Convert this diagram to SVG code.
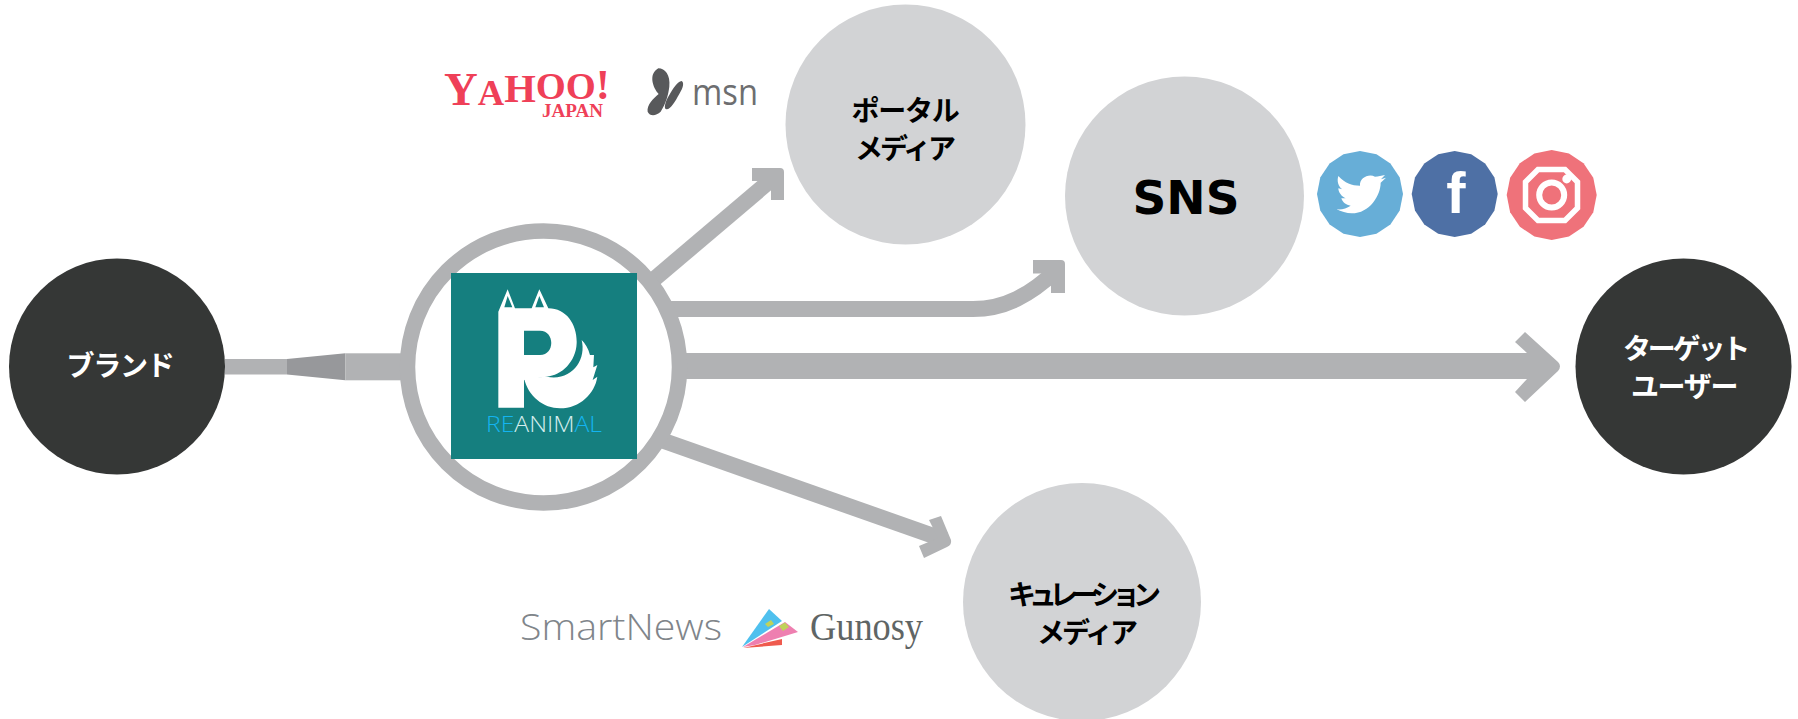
<svg xmlns="http://www.w3.org/2000/svg" xmlns:xlink="http://www.w3.org/1999/xlink" width="1798" height="719" viewBox="0 0 1798 719">
<style>
.dark{fill:#353736}.light{fill:#d2d3d5}.g{fill:#b1b2b4}
text{font-family:"Noto Sans CJK JP","Noto Sans",sans-serif;font-weight:700;text-anchor:middle}
.w{fill:#fff;font-size:28px;letter-spacing:-1.300px}.k{fill:#000;font-size:28px;letter-spacing:-1.300px}
.shaft{fill:none;stroke:#b1b2b4;stroke-width:16}
.logo{text-anchor:start}
.serif{font-family:"Liberation Serif",serif}
.sans{font-family:"Open Sans",sans-serif}
</style>
<defs>
<polygon id="facet" points="0,-1 .383,-.924 .707,-.707 .924,-.383 1,0 .924,.383 .707,.707 .383,.924 0,1 -.383,.924 -.707,.707 -.924,.383 -1,0 -.924,-.383 -.707,-.707 -.383,-.924"/>
</defs>
<rect width="1798" height="719" fill="#fff"/>
<g id="connectors">
<rect class="g" x="225" y="359" width="62" height="15.500"/>
<path d="M287 359L345.300 353.300V380.300L287 374.500Z" fill="#97989b"/>
<rect class="g" x="345.300" y="353.300" width="60" height="27"/>
<path class="shaft" d="M652 281L778 174"/>
<path class="g" d="M752 168H780Q784 168 784 172V200H771V181H752Z"/>
<path class="shaft" d="M668 309H973C1005 309 1030 295 1057 270"/>
<path class="g" d="M1033 260H1061Q1065 260 1065 264V293H1051V273.500H1033Z"/>
<path class="g" d="M680 353H1527L1515 342L1525 332L1558 362Q1562 366 1558 371L1525 402L1515 392L1527 379H680Z"/>
<path class="shaft" d="M664 441L945 540"/>
<path class="g" d="M941 516L951 540Q952 545 947 547L924 558L919 546L938 538L929 520Z"/>
</g>
<g id="brand"><circle class="dark" cx="117" cy="366.500" r="108"/><text class="w" x="120" y="376">ブランド</text></g>
<g id="target"><circle class="dark" cx="1683.500" cy="366.500" r="108"/><text class="w"><tspan x="1685" y="359" letter-spacing="-3.200">ターゲット</tspan><tspan x="1684" y="397">ユーザー</tspan></text></g>
<g id="portal"><circle class="light" cx="905.500" cy="124.500" r="120"/><text class="k"><tspan x="905" y="120.500">ポータル</tspan><tspan x="904" y="158.500" letter-spacing="-3">メディア</tspan></text></g>
<g id="sns"><circle class="light" cx="1184.500" cy="196" r="119.500"/><text class="k" x="1186" y="214" style="font-size:47px;letter-spacing:0;font-family:'DejaVu Sans',sans-serif">SNS</text></g>
<g id="curation"><circle class="light" cx="1082" cy="602" r="119"/><text class="k"><tspan x="1081" y="605" letter-spacing="-7">キュレーション</tspan><tspan x="1086" y="643" letter-spacing="-3">メディア</tspan></text></g>
<g id="reanimal">
<circle cx="543.500" cy="367" r="136" fill="#fff" stroke="#b1b2b4" stroke-width="15.500"/>
<rect x="451" y="273" width="186" height="186" fill="#157f7f"/>
<g transform="translate(480 280) scale(.3333)">
<path fill="#fff" d="M55 383V95L83 28L105 85H155L178 28L205 85C260 85 292 135 290 190C288 245 245 287 200 290L132 300V383Z"/>
<path fill="#fff" d="M132 295C145 350 190 385 240 385C300 385 345 340 352 290L338 300L352 255L340 262L342 225L330 225C325 205 315 190 305 180C320 240 275 305 200 290Z"/>
<path fill="#157f7f" d="M132 152H180C225 152 225 225 180 225H132Z"/>
<path fill="#157f7f" d="M83 48L73 82H97ZM178 48L166 82H192Z"/>
</g>
<text class="logo sans" x="486" y="431.500" textLength="116" lengthAdjust="spacingAndGlyphs" style="font-weight:300;font-size:22px" fill="#d5eeee"><tspan fill="#14b4f0">RE</tspan>ANIM<tspan fill="#14b4f0">AL</tspan></text>
</g>
<g id="logos">
<text class="logo serif" x="444" y="105" textLength="166" lengthAdjust="spacingAndGlyphs" style="font-size:38px" fill="#ef4058"><tspan style="font-size:46px">Y</tspan><tspan style="font-size:36px">A</tspan><tspan dy="-3" style="font-size:40px">H</tspan><tspan dy="-3">OO</tspan><tspan style="font-size:42px">!</tspan></text>
<text class="logo serif" x="542" y="117" textLength="61" lengthAdjust="spacingAndGlyphs" style="font-size:18px" fill="#ef4058">JAPAN</text>
<g transform="translate(420 0) scale(.3333)" fill="#58595b">
<path d="M715 205C735 205 752 225 748 260C745 285 738 310 722 335C708 348 690 350 683 335C680 315 700 295 716 282C698 262 685 222 715 205Z"/>
<path d="M785 243C793 248 790 262 778 282C765 305 752 328 740 328C730 328 735 305 748 285C760 265 772 245 785 243Z"/>
</g>
<text class="logo sans" x="692" y="105" textLength="66" lengthAdjust="spacingAndGlyphs" style="font-weight:400;font-size:37px" fill="#6d6e70">msn</text>
<text class="logo sans" x="520" y="640" textLength="202" lengthAdjust="spacingAndGlyphs" style="font-weight:300;font-size:36px" fill="#80858a">SmartNews</text>
<path fill="#4fc0ee" d="M742 647L769 609L782 621Z"/>
<path fill="#ee7fb0" d="M743 647L785 622L798 632L755 645Z"/>
<path fill="#ef5a4e" d="M743 648L782 639V645Z"/>
<path fill="#bfd25a" d="M765 624L771 620L774 624L768 627ZM779 626L785 622.500L789 627L783 631Z"/>
<text class="logo serif" x="810" y="640" textLength="113" lengthAdjust="spacingAndGlyphs" style="font-weight:400;font-size:39px" fill="#5f6565">Gunosy</text>
<use xlink:href="#facet" href="#facet" transform="translate(1360 194) scale(43)" fill="#67aed7"/>
<path transform="translate(1310 145) scale(.3333)" fill="#fff" d="M85 93C105 115 125 122 150 122C148 100 175 85 195 95C205 95 215 92 225 90L213 103L228 98L212 113C212 150 180 205 125 205C110 205 92 200 80 193C95 195 110 190 122 182C108 180 98 172 94 160L107 160C95 155 85 142 85 130L97 133C85 125 80 108 85 93Z"/>
<use xlink:href="#facet" href="#facet" transform="translate(1454.700 194) scale(43)" fill="#4e70a5"/>
<text x="1456" y="213" style="font-family:'Liberation Sans',sans-serif;font-size:58px" fill="#fff">f</text>
<use xlink:href="#facet" href="#facet" transform="translate(1551.700 195) scale(45)" fill="#ef727a"/>
<path fill="none" stroke="#fff" stroke-width="5.500" d="M1538 169.500H1565L1577.500 182V208L1565 220.500H1538L1525.500 208V182Z"/>
<circle cx="1551.700" cy="195" r="12.500" fill="none" stroke="#fff" stroke-width="6"/>
<circle cx="1566.700" cy="179" r="4.400" fill="#fff"/>
</g>
</svg>
